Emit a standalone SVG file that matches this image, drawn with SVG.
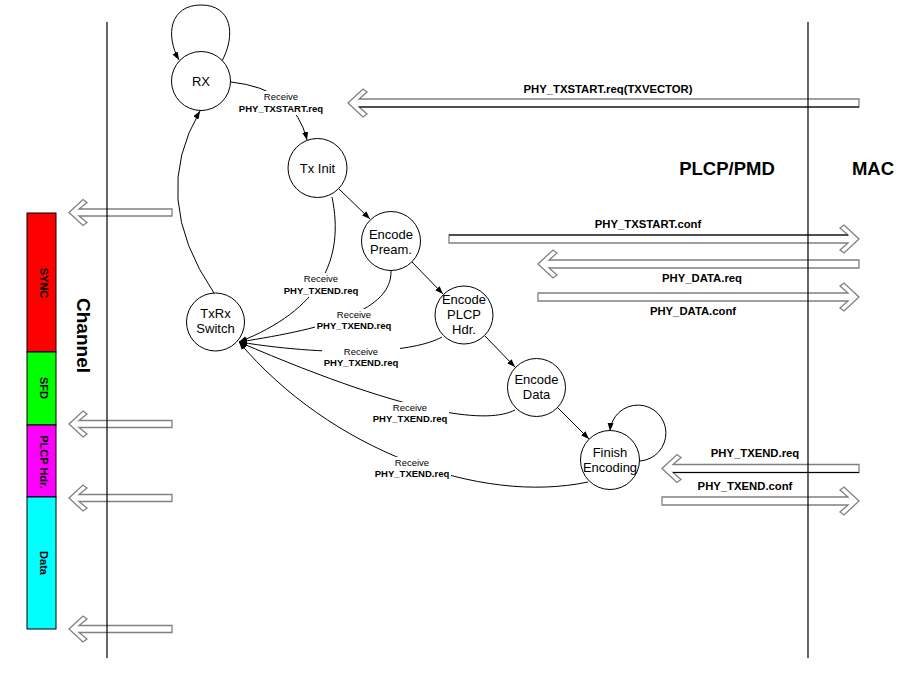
<svg xmlns="http://www.w3.org/2000/svg" width="918" height="682" viewBox="0 0 918 682">
<style>
text{font-family:'Liberation Sans',Arial,Helvetica,sans-serif;fill:#000}
.node circle{fill:#fff;stroke:#000;stroke-width:1}
.node text{font-size:13px;text-anchor:middle}
.edge{fill:none;stroke:#000;stroke-width:1}
.lbl rect{fill:#fff;stroke:none}
.lbl text{font-size:9.5px;text-anchor:middle}
.lbl .b{font-weight:bold}
.blk{fill:#fff;stroke:#808080;stroke-width:1.3;stroke-linejoin:miter}
.msg{font-size:11.3px;font-weight:bold;text-anchor:middle}
.bar text{font-size:11px;font-weight:bold;text-anchor:middle}
.bar rect{stroke:#000;stroke-width:1}
.life{stroke:#000;stroke-width:1.2}
.ttl{font-size:18.5px;font-weight:bold;text-anchor:middle}
</style>
<defs>
<marker id="ah" markerWidth="9" markerHeight="7" refX="8" refY="3" orient="auto" markerUnits="userSpaceOnUse">
<path d="M0,0 L8,3 L0,6 z" fill="#000"/>
</marker>
<polygon id="la" points="0,0 15,-14 19,-11 11,-4 100,-4 100,4 11,4 19,11 15,14"/>
</defs>
<rect x="0" y="0" width="918" height="682" fill="#fff"/>

<!-- frame bar -->
<g id="frame" class="bar">
<rect x="27" y="213" width="29" height="139" fill="#ff0000"/>
<rect x="27" y="352" width="29" height="73" fill="#00ff00"/>
<rect x="27" y="425" width="29" height="72" fill="#ff00ff"/>
<rect x="27" y="497" width="29" height="132" fill="#00ffff"/>
<text transform="translate(40,283) rotate(90)">SYNC</text>
<text transform="translate(40,388) rotate(90)">SFD</text>
<text transform="translate(40,462) rotate(90)">PLCP Hdr.</text>
<text transform="translate(40,563) rotate(90)">Data</text>
</g>

<!-- message block arrows -->
<g id="messages">
<polygon class="blk" points="0,0 15,-14 19,-11 11,-4 511,-4 511,4 11,4 19,11 15,14" transform="translate(348,103)"/>
<line x1="359" y1="107" x2="859" y2="107" stroke="#000" stroke-width="1.2"/>
<polygon class="blk" points="0,0 15,-14 19,-11 11,-4 410,-4 410,4 11,4 19,11 15,14" transform="translate(859,239) scale(-1,1)"/>
<line x1="449" y1="235" x2="848" y2="235" stroke="#000" stroke-width="1.2"/>
<polygon class="blk" points="0,0 15,-14 19,-11 11,-4 321,-4 321,4 11,4 19,11 15,14" transform="translate(538,264)"/>
<polygon class="blk" points="0,0 15,-14 19,-11 11,-4 321,-4 321,4 11,4 19,11 15,14" transform="translate(859,297) scale(-1,1)"/>
<polygon class="blk" points="0,0 15,-14 19,-11 11,-4 197,-4 197,4 11,4 19,11 15,14" transform="translate(662,468.5)"/>
<line x1="673" y1="472.5" x2="859" y2="472.5" stroke="#000" stroke-width="1.2"/>
<polygon class="blk" points="0,0 15,-14 19,-11 11,-4 197,-4 197,4 11,4 19,11 15,14" transform="translate(859,501) scale(-1,1)"/>
<polygon class="blk" points="0,0 14,-13 18,-10 10,-3.5 103,-3.5 103,3.5 10,3.5 18,10 14,13" transform="translate(69,212.5)"/>
<polygon class="blk" points="0,0 14,-13 18,-10 10,-3.5 103,-3.5 103,3.5 10,3.5 18,10 14,13" transform="translate(69,424)"/>
<polygon class="blk" points="0,0 14,-13 18,-10 10,-3.5 103,-3.5 103,3.5 10,3.5 18,10 14,13" transform="translate(69,498)"/>
<polygon class="blk" points="0,0 14,-13 18,-10 10,-3.5 103,-3.5 103,3.5 10,3.5 18,10 14,13" transform="translate(69,629)"/>
<text class="msg" x="608" y="93">PHY_TXSTART.req(TXVECTOR)</text>
<text class="msg" x="648" y="228">PHY_TXSTART.conf</text>
<text class="msg" x="702" y="282">PHY_DATA.req</text>
<text class="msg" x="693" y="315">PHY_DATA.conf</text>
<text class="msg" x="755" y="457">PHY_TXEND.req</text>
<text class="msg" x="745" y="490">PHY_TXEND.conf</text>
</g>

<!-- lifelines and titles -->
<g id="lifelines">
<line class="life" x1="107" y1="22" x2="107" y2="658"/>
<line class="life" x1="808" y1="22" x2="808" y2="658"/>
<text class="ttl" x="727" y="175">PLCP/PMD</text>
<text class="ttl" x="873" y="175">MAC</text>
<text transform="translate(77,335.5) rotate(90)" style="font-size:19px;font-weight:bold;text-anchor:middle">Channel</text>
</g>

<!-- connectors -->
<g id="connectors">
<path class="edge" d="M231,82 Q295,89 307,140" marker-end="url(#ah)"/>
<path class="edge" d="M339,189 L370,219" marker-end="url(#ah)"/>
<path class="edge" d="M412,262 L443,294" marker-end="url(#ah)"/>
<path class="edge" d="M485,336 L515,367" marker-end="url(#ah)"/>
<path class="edge" d="M558,408 L589,439" marker-end="url(#ah)"/>
<path class="edge" d="M214,293 Q149,197.5 200,111" marker-end="url(#ah)"/>
<path class="edge" d="M222,61 C236,35 232,5 201,5 C170,5 165,35 179,60" marker-end="url(#ah)"/>
<path class="edge" d="M640,461 A28,28 0 1 0 610,431" marker-end="url(#ah)"/>
<path class="edge" d="M332,197 C345,260 320,310 239,342" marker-end="url(#ah)"/>
<path class="edge" d="M391,271 C392,310 330,328 239,342" marker-end="url(#ah)"/>
<path class="edge" d="M442,337 C415,352 340,358 239,342" marker-end="url(#ah)"/>
<path class="edge" d="M515,410 C490,423 420,420 239,342" marker-end="url(#ah)"/>
<path class="edge" d="M588,482 C480,505 330,450 239,342" marker-end="url(#ah)"/>
<g class="lbl">
<rect x="236" y="91" width="90" height="24"/>
<text x="281" y="100">Receive</text><text class="b" x="281" y="111.5">PHY_TXSTART.req</text>
<rect x="282" y="273" width="78" height="24"/>
<text x="321" y="282">Receive</text><text class="b" x="321" y="293.5">PHY_TXEND.req</text>
<rect x="315" y="309" width="78" height="24"/>
<text x="354" y="318">Receive</text><text class="b" x="354" y="329">PHY_TXEND.req</text>
<rect x="322" y="346" width="78" height="24"/>
<text x="361" y="355">Receive</text><text class="b" x="361" y="366">PHY_TXEND.req</text>
<rect x="371" y="402" width="78" height="24"/>
<text x="410" y="411">Receive</text><text class="b" x="410" y="422">PHY_TXEND.req</text>
<rect x="373" y="457" width="78" height="24"/>
<text x="412" y="466">Receive</text><text class="b" x="412" y="477">PHY_TXEND.req</text>
</g>
</g>

<!-- nodes -->
<g id="rx" class="node"><circle cx="201" cy="81" r="29.5"/><text x="201" y="85.5">RX</text></g>
<g id="txinit" class="node"><circle cx="317.5" cy="168" r="29.5"/><text x="317.5" y="172.5">Tx Init</text></g>
<g id="encpream" class="node"><circle cx="391" cy="241" r="29.5"/><text x="391" y="239">Encode</text><text x="391" y="254">Pream.</text></g>
<g id="txrx" class="node"><circle cx="215.5" cy="322" r="29"/><text x="215.5" y="318">TxRx</text><text x="215.5" y="333">Switch</text></g>
<g id="encplcp" class="node"><circle cx="464" cy="315" r="29"/><text x="464" y="304">Encode</text><text x="464" y="319">PLCP</text><text x="464" y="334">Hdr.</text></g>
<g id="encdata" class="node"><circle cx="536.5" cy="387.5" r="29"/><text x="536.5" y="384">Encode</text><text x="536.5" y="399">Data</text></g>
<g id="finish" class="node"><circle cx="610" cy="460" r="29.5"/><text x="610" y="457">Finish</text><text x="610" y="472">Encoding</text></g>
</svg>
